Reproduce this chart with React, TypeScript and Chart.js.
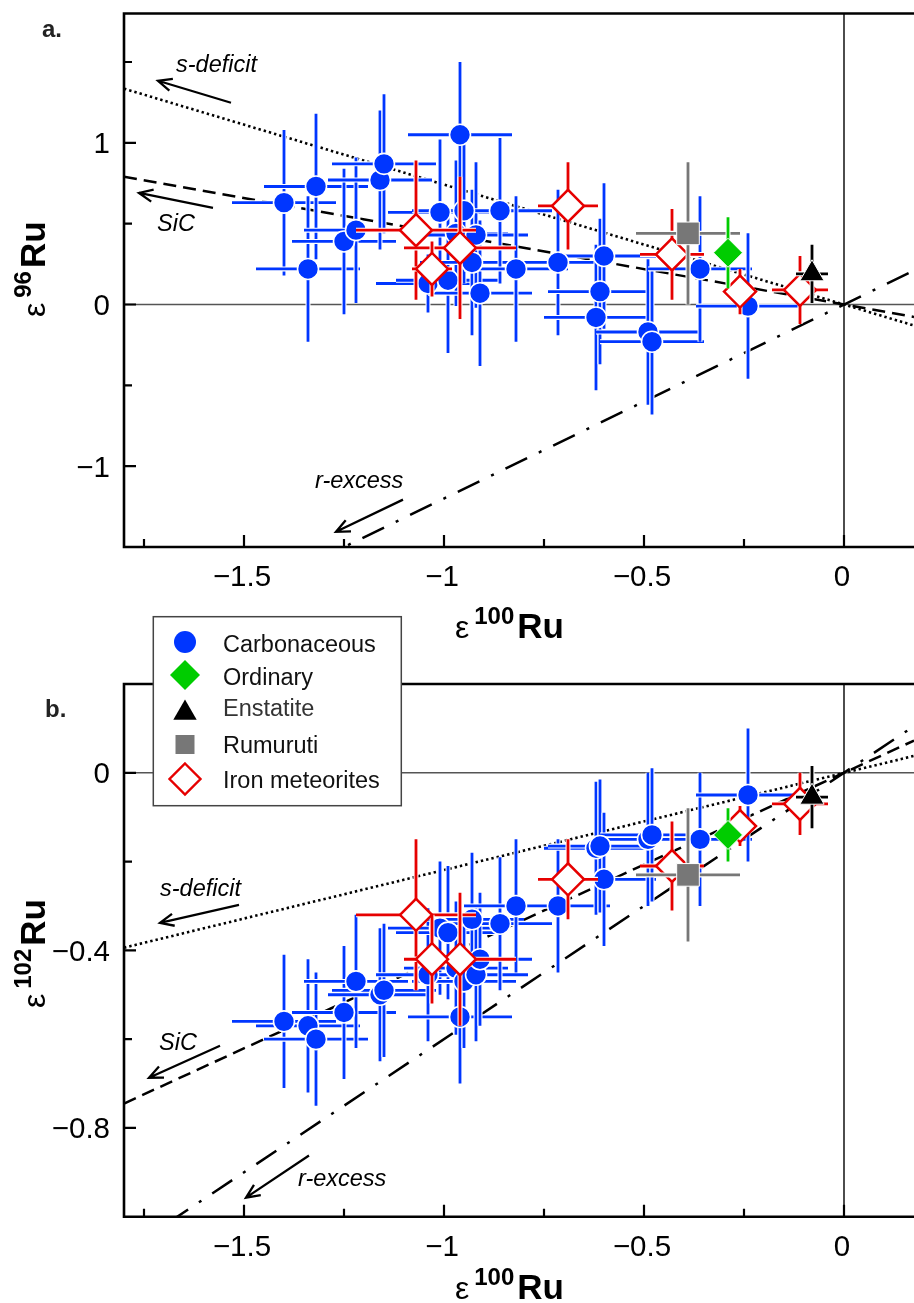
import React, { useEffect, useRef } from "react";
import { Chart, registerables } from "chart.js";

Chart.register(...registerables);

const FONT = '"Liberation Sans", Arial, Helvetica, sans-serif';
const BLUE = "#0036FF";
const RED = "#E60000";
const GREEN = "#00CC00";
const GRAY = "#777777";
const BLACK = "#000000";

const X_MIN = -1.8;
const X_MAX = 0.175;

// ---------- Carbonaceous chondrites ----------
const carbX = [-1.4, -1.34, -1.32, -1.25, -1.22, -1.16, -1.15, -1.04, -1.01, -0.99, -0.97, -0.96, -0.95, -0.93, -0.92, -0.91, -0.86, -0.82, -0.715, -0.62, -0.61, -0.6, -0.49, -0.48, -0.36, -0.24];
const carbXErr = [0.13, 0.13, 0.13, 0.13, 0.13, 0.13, 0.13, 0.13, 0.13, 0.13, 0.13, 0.13, 0.13, 0.13, 0.13, 0.13, 0.13, 0.13, 0.13, 0.13, 0.13, 0.13, 0.13, 0.13, 0.13, 0.13];
const carb96 = [0.63, 0.22, 0.73, 0.39, 0.46, 0.77, 0.87, 0.13, 0.57, 0.15, 0.44, 1.05, 0.58, 0.26, 0.43, 0.07, 0.58, 0.22, 0.26, -0.08, 0.08, 0.3, -0.17, -0.23, 0.22, -0.01];
const carb96Err = [0.45, 0.45, 0.45, 0.45, 0.45, 0.43, 0.43, 0.18, 0.45, 0.45, 0.45, 0.45, 0.45, 0.45, 0.45, 0.45, 0.45, 0.45, 0.45, 0.45, 0.45, 0.45, 0.45, 0.45, 0.45, 0.45];
const carb102 = [-0.56, -0.57, -0.6, -0.54, -0.47, -0.5, -0.49, -0.455, -0.35, -0.36, -0.44, -0.55, -0.47, -0.33, -0.455, -0.42, -0.34, -0.3, -0.3, -0.17, -0.165, -0.24, -0.15, -0.14, -0.15, -0.05];
const carb102Err = [0.15, 0.15, 0.15, 0.15, 0.15, 0.15, 0.15, 0.15, 0.15, 0.15, 0.15, 0.15, 0.15, 0.15, 0.15, 0.15, 0.15, 0.15, 0.15, 0.15, 0.15, 0.15, 0.15, 0.15, 0.15, 0.15];

// ---------- Iron meteorites ----------
const ironX = [-1.07, -0.96, -1.03, -0.69, -0.43, -0.26, -0.11];
const ironXErr = [0.15, 0.14, 0.05, 0.075, 0.08, 0.04, 0.07];
const iron96 = [0.46, 0.35, 0.22, 0.61, 0.31, 0.08, 0.09];
const iron96Err = [0.43, 0.44, 0.17, 0.27, 0.28, 0.14, 0.21];
const iron102 = [-0.32, -0.42, -0.42, -0.24, -0.21, -0.12, -0.07];
const iron102Err = [0.17, 0.15, 0.1, 0.09, 0.1, 0.045, 0.07];

// ---------- Ordinary chondrites ----------
const ordX = [-0.29];
const ordXErr = [0.02];
const ord96 = [0.32];
const ord96Err = [0.22];
const ord102 = [-0.14];
const ord102Err = [0.06];

// ---------- Enstatite chondrites ----------
const ensX = [-0.08];
const ensXErr = [0.04];
const ens96 = [0.19];
const ens96Err = [0.18];
const ens102 = [-0.055];
const ens102Err = [0.07];

// ---------- Rumuruti chondrites ----------
const rumX = [-0.39];
const rumXErr = [0.13];
const rum96 = [0.44];
const rum96Err = [0.44];
const rum102 = [-0.23];
const rum102Err = [0.15];

// ---------- Reference lines (through origin) ----------
const sDeficitA = [{ x: -1.8, y: 1.335 }, { x: 0.175, y: -0.13 }];
const sicA = [{ x: -1.8, y: 0.79 }, { x: 0.175, y: -0.077 }];
const rExcessA = [{ x: -1.8, y: -2.16 }, { x: 0.175, y: 0.21 }];
const sDeficitB = [{ x: -1.8, y: -0.394 }, { x: 0.175, y: 0.038 }];
const sicB = [{ x: -1.8, y: -0.745 }, { x: 0.175, y: 0.0725 }];
const rExcessB = [{ x: -1.8, y: -1.08 }, { x: 0.175, y: 0.105 }];

// ---------- Ticks ----------
const xMajorTicks = [-1.5, -1, -0.5, 0];
const xTickLabels = ["\u22121.5", "\u22121", "\u22120.5", "0"];
const xMinorTicks = [-1.75, -1.25, -0.75, -0.25];
const yMajorTicksA = [1, 0, -1];
const yTickLabelsA = ["1", "0", "\u22121"];
const yMinorTicksA = [1.5, 0.5, -0.5];
const yMajorTicksB = [0, -0.4, -0.8];
const yTickLabelsB = ["0", "\u22120.4", "\u22120.8"];
const yMinorTicksB = [-0.2, -0.6];

// ---------- Annotations (text left/baseline, arrow tail -> head) ----------
const annotTextsA = ["s-deficit", "SiC", "r-excess"];
const annotPosA = [[-1.67, 1.436], [-1.7175, 0.456], [-1.3225, -1.137]];
const annotArrowsA = [[-1.5325, 1.248, -1.715, 1.384], [-1.5775, 0.597, -1.7625, 0.69], [-1.1025, -1.207, -1.27, -1.406]];
const annotTextsB = ["s-deficit", "SiC", "r-excess"];
const annotPosB = [[-1.71, -0.277], [-1.7125, -0.624], [-1.365, -0.931]];
const annotArrowsB = [[-1.5125, -0.2975, -1.71, -0.338], [-1.56, -0.615, -1.7375, -0.687], [-1.3375, -0.862, -1.495, -0.957]];

// ---------- Legend ----------
const legendLabels = ["Carbonaceous", "Ordinary", "Enstatite", "Rumuruti", "Iron meteorites"];

type Panel = any;

const panelA: Panel = {
  top: 0,
  height: 660,
  pad: { left: 124, top: 13.5, right: 0, bottom: 113 },
  yMin: -1.5,
  yMax: 1.8,
  carbY: carb96, carbErr: carb96Err,
  ironY: iron96, ironErr: iron96Err,
  ordY: ord96, ordErr: ord96Err,
  ensY: ens96, ensErr: ens96Err,
  rumY: rum96, rumErr: rum96Err,
  lines: [sDeficitA, sicA, rExcessA],
  yMajor: yMajorTicksA, yLabels: yTickLabelsA, yMinor: yMinorTicksA,
  annTexts: annotTextsA, annPos: annotPosA, annArrows: annotArrowsA,
  letter: { text: "a.", x: 42, y: 37 },
  xTitle: { x: 455, y: 638 },
  yTitle: { x: 45, y: 317, sup: "96" },
  legend: null,
};

const panelB: Panel = {
  top: 600,
  height: 703,
  pad: { left: 124, top: 84, right: 0, bottom: 86.3 },
  yMin: -1,
  yMax: 0.2,
  carbY: carb102, carbErr: carb102Err,
  ironY: iron102, ironErr: iron102Err,
  ordY: ord102, ordErr: ord102Err,
  ensY: ens102, ensErr: ens102Err,
  rumY: rum102, rumErr: rum102Err,
  lines: [sDeficitB, sicB, rExcessB],
  yMajor: yMajorTicksB, yLabels: yTickLabelsB, yMinor: yMinorTicksB,
  annTexts: annotTextsB, annPos: annotPosB, annArrows: annotArrowsB,
  letter: { text: "b.", x: 45, y: 117 },
  xTitle: { x: 455, y: 699 },
  yTitle: { x: 45, y: 408, sup: "102" },
  legend: {
    x: 153.3, y: 16.7, w: 248, h: 189,
    markerX: 185, textX: 223,
    rowY: [42, 75, 713 - 600, 144.5, 179],
    baseY: [51.7, 84.5, 115.5, 153, 188],
  },
};

function pts(xs: number[], ys: number[]) {
  return xs.map((x, i) => ({ x, y: ys[i] }));
}

const errorBarPlugin = {
  id: "errorBars",
  beforeDatasetDraw(chart: any, args: any) {
    const ds = chart.data.datasets[args.index];
    if (!ds.errX) return;
    const xs = chart.scales.x;
    const ys = chart.scales.y;
    const ctx = chart.ctx;
    const a = chart.chartArea;
    ctx.save();
    ctx.beginPath();
    ctx.rect(a.left, a.top, a.right - a.left, a.bottom - a.top);
    ctx.clip();
    ctx.lineCap = "butt";
    ds.data.forEach((p: any, i: number) => {
      const px = xs.getPixelForValue(p.x);
      const py = ys.getPixelForValue(p.y);
      const x0 = xs.getPixelForValue(p.x - ds.errX[i]);
      const x1 = xs.getPixelForValue(p.x + ds.errX[i]);
      const y0 = ys.getPixelForValue(p.y - ds.errY[i]);
      const y1 = ys.getPixelForValue(p.y + ds.errY[i]);
      const path = () => {
        ctx.beginPath();
        ctx.moveTo(x0, py);
        ctx.lineTo(x1, py);
        ctx.moveTo(px, y0);
        ctx.lineTo(px, y1);
      };
      path();
      ctx.strokeStyle = "#ffffff";
      ctx.lineWidth = 5;
      ctx.stroke();
      path();
      ctx.strokeStyle = ds.errColor;
      ctx.lineWidth = 2.8;
      ctx.stroke();
    });
    ctx.restore();
  },
};

function drawArrow(ctx: CanvasRenderingContext2D, x1: number, y1: number, x2: number, y2: number) {
  const ang = Math.atan2(y2 - y1, x2 - x1);
  const L = 15;
  const w = 0.42;
  ctx.beginPath();
  ctx.moveTo(x1, y1);
  ctx.lineTo(x2, y2);
  ctx.moveTo(x2 - L * Math.cos(ang - w), y2 - L * Math.sin(ang - w));
  ctx.lineTo(x2, y2);
  ctx.lineTo(x2 - L * Math.cos(ang + w), y2 - L * Math.sin(ang + w));
  ctx.stroke();
}

function drawEpsTitle(ctx: CanvasRenderingContext2D, x: number, y: number, sup: string, rotate: boolean) {
  ctx.save();
  ctx.translate(x, y);
  if (rotate) ctx.rotate(-Math.PI / 2);
  ctx.fillStyle = "#000";
  ctx.textAlign = "left";
  ctx.textBaseline = "alphabetic";
  ctx.font = `32px ${FONT}`;
  ctx.fillText("\u03b5", 0, 0);
  let cx = ctx.measureText("\u03b5").width + 5;
  ctx.font = `bold 24px ${FONT}`;
  ctx.fillText(sup, cx, -14);
  cx += ctx.measureText(sup).width + 3;
  ctx.font = `bold 35px ${FONT}`;
  ctx.fillText("Ru", cx, 0);
  ctx.restore();
}

function drawMarker(ctx: CanvasRenderingContext2D, kind: string, x: number, y: number) {
  ctx.save();
  ctx.beginPath();
  if (kind === "circle") {
    ctx.arc(x, y, 11, 0, Math.PI * 2);
    ctx.fillStyle = BLUE;
    ctx.fill();
  } else if (kind === "ordinary") {
    const r = 15;
    ctx.moveTo(x, y - r);
    ctx.lineTo(x + r, y);
    ctx.lineTo(x, y + r);
    ctx.lineTo(x - r, y);
    ctx.closePath();
    ctx.fillStyle = GREEN;
    ctx.fill();
  } else if (kind === "triangle") {
    const r = 13.5;
    const s = Math.sin((2 * Math.PI) / 3) * r;
    ctx.moveTo(x, y - r);
    ctx.lineTo(x + s, y + r / 2);
    ctx.lineTo(x - s, y + r / 2);
    ctx.closePath();
    ctx.fillStyle = BLACK;
    ctx.fill();
  } else if (kind === "square") {
    ctx.rect(x - 9.5, y - 9.5, 19, 19);
    ctx.fillStyle = GRAY;
    ctx.fill();
  } else {
    const r = 15.5;
    ctx.moveTo(x, y - r);
    ctx.lineTo(x + r, y);
    ctx.lineTo(x, y + r);
    ctx.lineTo(x - r, y);
    ctx.closePath();
    ctx.fillStyle = "#fff";
    ctx.fill();
    ctx.strokeStyle = RED;
    ctx.lineWidth = 2.4;
    ctx.stroke();
  }
  ctx.restore();
}

const legendKinds = ["circle", "ordinary", "triangle", "square", "iron"];

function makeDecor(p: Panel) {
  return {
    id: "decor",
    beforeDatasetsDraw(chart: any) {
      const { ctx, chartArea: a } = chart;
      const xs = chart.scales.x;
      const ys = chart.scales.y;
      ctx.save();
      const y0 = ys.getPixelForValue(0);
      const x0 = xs.getPixelForValue(0);
      ctx.strokeStyle = "#555";
      ctx.lineWidth = 1.4;
      ctx.beginPath();
      ctx.moveTo(a.left, y0);
      ctx.lineTo(a.right, y0);
      ctx.stroke();
      ctx.strokeStyle = "#000";
      ctx.lineWidth = 1.4;
      ctx.beginPath();
      ctx.moveTo(x0, a.top);
      ctx.lineTo(x0, a.bottom);
      ctx.stroke();
      ctx.restore();
    },
    afterDatasetsDraw(chart: any) {
      const { ctx, chartArea: a } = chart;
      const xs = chart.scales.x;
      const ys = chart.scales.y;
      ctx.save();
      // frame
      ctx.strokeStyle = "#000";
      ctx.lineWidth = 2.6;
      ctx.lineCap = "square";
      ctx.beginPath();
      ctx.moveTo(a.right + 5, a.top);
      ctx.lineTo(a.left, a.top);
      ctx.lineTo(a.left, a.bottom);
      ctx.lineTo(a.right + 5, a.bottom);
      ctx.stroke();
      // ticks
      ctx.lineCap = "butt";
      ctx.lineWidth = 2.2;
      ctx.beginPath();
      xMajorTicks.forEach((v) => {
        const px = xs.getPixelForValue(v);
        ctx.moveTo(px, a.bottom);
        ctx.lineTo(px, a.bottom - 12);
      });
      xMinorTicks.forEach((v) => {
        const px = xs.getPixelForValue(v);
        ctx.moveTo(px, a.bottom);
        ctx.lineTo(px, a.bottom - 8);
      });
      p.yMajor.forEach((v: number) => {
        const py = ys.getPixelForValue(v);
        ctx.moveTo(a.left, py);
        ctx.lineTo(a.left + 12, py);
      });
      p.yMinor.forEach((v: number) => {
        const py = ys.getPixelForValue(v);
        ctx.moveTo(a.left, py);
        ctx.lineTo(a.left + 8, py);
      });
      ctx.stroke();
      // tick labels
      ctx.fillStyle = "#000";
      ctx.font = `29.5px ${FONT}`;
      ctx.textBaseline = "alphabetic";
      ctx.textAlign = "center";
      xMajorTicks.forEach((v, i) => {
        ctx.fillText(xTickLabels[i], xs.getPixelForValue(v) - 2, a.bottom + 39);
      });
      ctx.textAlign = "right";
      p.yMajor.forEach((v: number, i: number) => {
        ctx.fillText(p.yLabels[i], a.left - 14, ys.getPixelForValue(v) + 10.5);
      });
      // titles
      drawEpsTitle(ctx, p.xTitle.x, p.xTitle.y, "100", false);
      drawEpsTitle(ctx, p.yTitle.x, p.yTitle.y, p.yTitle.sup, true);
      // panel letter
      ctx.font = `bold 24px ${FONT}`;
      ctx.textAlign = "left";
      ctx.fillStyle = "#222";
      ctx.fillText(p.letter.text, p.letter.x, p.letter.y);
      // annotations
      ctx.fillStyle = "#000";
      ctx.font = `italic 23.5px ${FONT}`;
      p.annTexts.forEach((t: string, i: number) => {
        const [tx, ty] = p.annPos[i];
        ctx.fillText(t, xs.getPixelForValue(tx), ys.getPixelForValue(ty));
      });
      ctx.strokeStyle = "#000";
      ctx.lineWidth = 2.3;
      ctx.lineJoin = "miter";
      p.annArrows.forEach((ar: number[]) => {
        drawArrow(
          ctx,
          xs.getPixelForValue(ar[0]),
          ys.getPixelForValue(ar[1]),
          xs.getPixelForValue(ar[2]),
          ys.getPixelForValue(ar[3])
        );
      });
      ctx.restore();
    },
    afterDraw(chart: any) {
      const L = p.legend;
      if (!L) return;
      const ctx = chart.ctx;
      ctx.save();
      ctx.fillStyle = "#fff";
      ctx.fillRect(L.x, L.y, L.w, L.h);
      ctx.strokeStyle = "#444";
      ctx.lineWidth = 1.5;
      ctx.strokeRect(L.x, L.y, L.w, L.h);
      legendLabels.forEach((lab, i) => {
        drawMarker(ctx, legendKinds[i], L.markerX, L.rowY[i]);
        ctx.fillStyle = i === 2 ? "#333" : "#111";
        ctx.font = `23.5px ${FONT}`;
        ctx.textAlign = "left";
        ctx.textBaseline = "alphabetic";
        ctx.fillText(lab, L.textX, L.baseY[i]);
      });
      ctx.restore();
    },
  };
}

function buildConfig(p: Panel): any {
  const lineStyle = (data: any, dash: number[], order: number, width: number) => ({
    type: "scatter",
    data,
    showLine: true,
    borderColor: "#000",
    borderWidth: width,
    borderDash: dash,
    pointRadius: 0,
    fill: false,
    clip: 0,
    order,
  });
  const markerSet = (label: string, xs: number[], ys: number[], ex: number[], ey: number[], errColor: string, style: string, radius: number, bg: string, bc: string, bw: number, order: number) => ({
    type: "scatter",
    label,
    data: pts(xs, ys),
    errX: ex,
    errY: ey,
    errColor,
    showLine: false,
    pointStyle: style,
    pointRadius: radius,
    pointBackgroundColor: bg,
    pointBorderColor: bc,
    pointBorderWidth: bw,
    backgroundColor: bg,
    borderColor: bc,
    order,
  });
  return {
    type: "scatter",
    data: {
      datasets: [
        lineStyle(p.lines[0], [2.4, 3], 12, 2.6),
        lineStyle(p.lines[1], [13, 7], 11, 2.5),
        lineStyle(p.lines[2], [24, 13, 3, 13], 10, 2.5),
        markerSet("Carbonaceous", carbX, p.carbY, carbXErr, p.carbErr, BLUE, "circle", 10.5, BLUE, "#ffffff", 1.6, 5),
        markerSet("Iron meteorites", ironX, p.ironY, ironXErr, p.ironErr, RED, "rectRot", 16, "#ffffff", RED, 2.5, 4),
        markerSet("Rumuruti", rumX, p.rumY, rumXErr, p.rumErr, GRAY, "rect", 16, GRAY, "#ffffff", 1, 3),
        markerSet("Ordinary", ordX, p.ordY, ordXErr, p.ordErr, GREEN, "rectRot", 14.5, GREEN, "#ffffff", 1, 2),
        markerSet("Enstatite", ensX, p.ensY, ensXErr, p.ensErr, BLACK, "triangle", 14, BLACK, "#ffffff", 1, 1),
      ],
    },
    options: {
      responsive: false,
      maintainAspectRatio: false,
      animation: false,
      events: [],
      devicePixelRatio: 1,
      layout: { padding: p.pad, autoPadding: false },
      plugins: { legend: { display: false }, tooltip: { enabled: false } },
      scales: {
        x: { type: "linear", min: X_MIN, max: X_MAX, display: false },
        y: { type: "linear", min: p.yMin, max: p.yMax, display: false },
      },
    },
    plugins: [errorBarPlugin, makeDecor(p)],
  };
}

function PanelChart({ cfg }: { cfg: Panel }) {
  const ref = useRef<HTMLCanvasElement>(null);
  useEffect(() => {
    if (!ref.current) return;
    const chart = new Chart(ref.current, buildConfig(cfg));
    return () => chart.destroy();
  }, [cfg]);
  return (
    <canvas
      ref={ref}
      width={914}
      height={cfg.height}
      style={{ position: "absolute", left: 0, top: cfg.top, width: 914, height: cfg.height, display: "block" }}
    />
  );
}

export default function App() {
  return (
    <div style={{ position: "absolute", left: 0, top: 0, width: 914, height: 1303, background: "#fff", overflow: "hidden" }}>
      <PanelChart cfg={panelA} />
      <PanelChart cfg={panelB} />
    </div>
  );
}
